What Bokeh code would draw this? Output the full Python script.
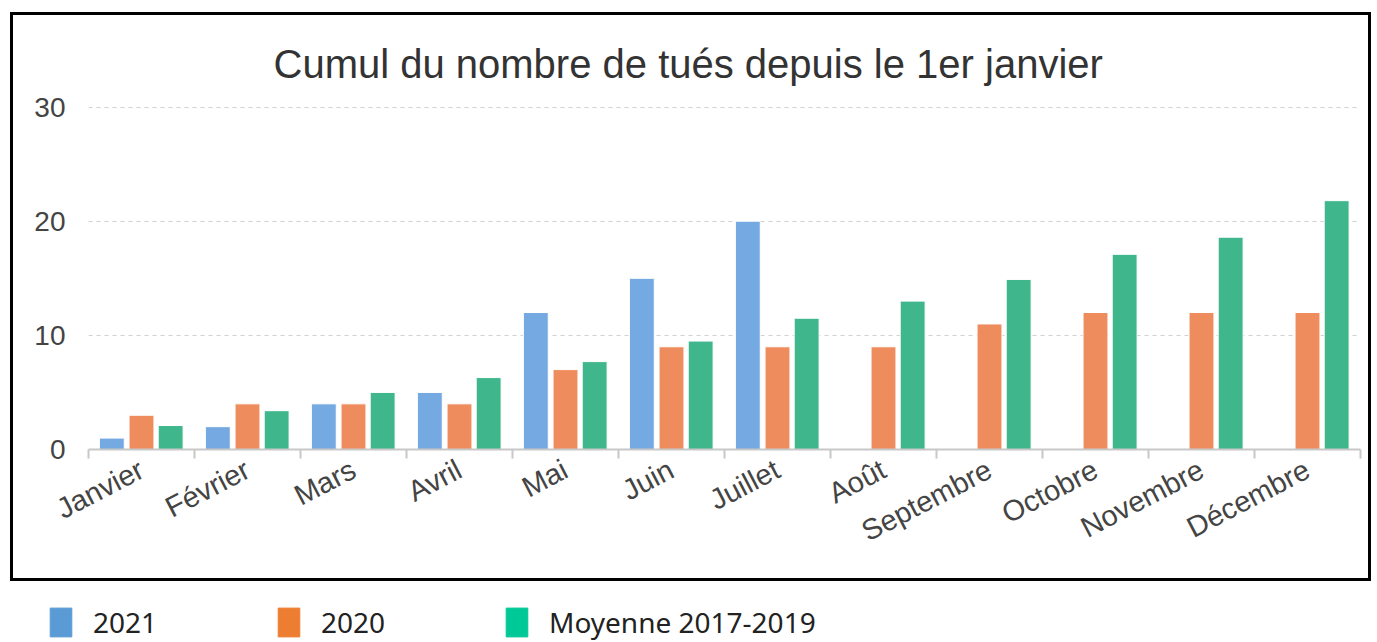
from bokeh.plotting import figure
from bokeh.models import (Range1d, LinearAxis, FixedTicker, ColumnDataSource,
                          Legend, LegendItem, Title)
from bokeh.transform import dodge
from bokeh.layouts import column
from bokeh.embed import file_html
from bokeh.resources import INLINE

nan = float("nan")

# ---- data ----
months = ["Janvier", "Février", "Mars", "Avril", "Mai", "Juin", "Juillet",
          "Août", "Septembre", "Octobre", "Novembre", "Décembre"]
s2021 = [1, 2, 4, 5, 12, 15, 20, nan, nan, nan, nan, nan]
s2020 = [3, 4, 4, 4, 7, 9, 9, 9, 11, 12, 12, 12]
moy = [2.1, 3.4, 5, 6.3, 7.7, 9.5, 11.5, 13, 14.9, 17.1, 18.6, 21.8]
y_ticks = [0, 10, 20, 30]
series_names = ["2021", "2020", "Moyenne 2017-2019"]
title_text = "Cumul du nombre de tués depuis le 1er janvier"

bar_colors = ["#75a9e1", "#ef8c5d", "#40b68c"]
legend_colors = ["#5b9bd5", "#ed7d31", "#00c896"]

n = len(months)
idx = list(range(n))
src = ColumnDataSource(dict(month=months, s2021=s2021, s2020=s2020, moy=moy, idx=idx))

# ---- chart ----
p = figure(x_range=Range1d(0, n), y_range=Range1d(0, 30.4),
           width=1361, height=569, output_backend="svg", toolbar_location=None,
           x_axis_location=None, min_border_left=75, min_border_right=14,
           min_border_top=87, min_border_bottom=135, outline_line_color=None)
p.margin = (12, 0, 0, 10)
p.styles = {"border": "3px solid black"}

p.title = Title(text=title_text, align="left", offset=185, vertical_align="top",
                text_font="Liberation Sans", text_font_size="40px",
                text_font_style="normal", text_color="#333333", standoff=30)

p.yaxis.ticker = FixedTicker(ticks=y_ticks)
p.yaxis.axis_line_color = None
p.yaxis.major_tick_line_color = None
p.yaxis.minor_tick_line_color = None
p.yaxis.major_label_standoff = 17
p.yaxis.major_label_text_font = "Liberation Sans"
p.yaxis.major_label_text_font_size = "28px"
p.yaxis.major_label_text_color = "#444444"

p.ygrid.grid_line_dash = "4 4"
p.ygrid.grid_line_color = "#d0d0d0"
p.ygrid.grid_line_width = 1
p.xgrid.visible = False

# month labels at category centres, tick marks (minor) at category boundaries
centres = [i + 0.5 for i in idx]
x_axis = LinearAxis(ticker=FixedTicker(ticks=centres, minor_ticks=list(range(n + 1))),
                    major_label_overrides={c: m for c, m in zip(centres, months)},
                    axis_line_color="#c8c8c8", axis_line_width=2,
                    major_tick_line_color=None, major_tick_in=0, major_tick_out=0,
                    minor_tick_line_color="#c8c8c8", minor_tick_line_width=2,
                    minor_tick_in=0, minor_tick_out=9,
                    major_label_orientation=0.48, major_label_standoff=9,
                    major_label_text_font="Liberation Sans",
                    major_label_text_font_size="29px", major_label_text_color="#444444")
p.add_layout(x_axis, "below")

offsets = [-0.28, 0.0, 0.275]
cols = ["s2021", "s2020", "moy"]
for c, off, col in zip(cols, offsets, bar_colors):
    p.vbar(x=dodge("idx", 0.5 + off), top=c, bottom=0, width=0.235,
           source=src, fill_color=col, line_color="white", line_width=1)

# ---- legend strip ----
lg = figure(width=1361, height=60, x_range=Range1d(0, 1), y_range=Range1d(1000, 1001),
            output_backend="svg", toolbar_location=None, x_axis_location=None,
            y_axis_location=None, min_border=0, outline_line_color=None)
lg.frame_align = False
lg.grid.visible = False

items = []
for c, name, col in zip(cols, series_names, legend_colors):
    r = lg.vbar(x="idx", top=c, width=0.5, source=src, fill_color=col, line_color=col)
    items.append(LegendItem(label=name, renderers=[r]))

leg = Legend(items=items, location=(47, 0), orientation="horizontal",
             glyph_width=27, glyph_height=36, label_standoff=19, label_width=120,
             spacing=62, padding=0, margin=0, border_line_color=None,
             background_fill_alpha=0, label_text_font="Noto Sans",
             label_text_font_size="28px", label_text_color="#222222")
lg.add_layout(leg)

layout = column(p, lg, spacing=0)
open("out.html", "w").write(file_html(layout, INLINE))
